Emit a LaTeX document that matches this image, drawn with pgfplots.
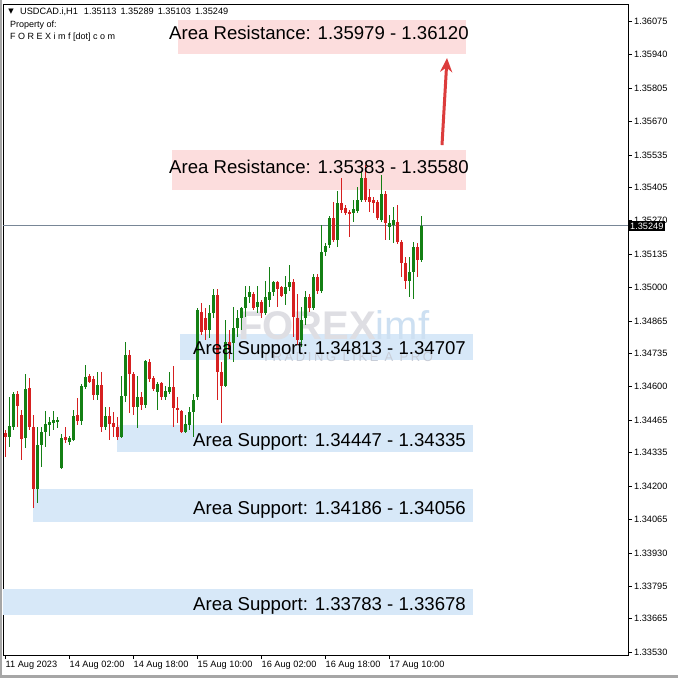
\documentclass[border=0pt]{standalone}
\usepackage{pgfplots}
\pgfplotsset{compat=1.18}
\usepackage{pgfplotstable}
\usetikzlibrary{arrows.meta}
\usepackage{fontspec}
\setmainfont{Liberation Sans}
\newfontfamily\dejavu{DejaVu Sans}
\definecolor{cgreen}{RGB}{20,128,20}
\definecolor{cred}{RGB}{214,32,32}
\definecolor{respink}{RGB}{252,221,221}
\definecolor{supblue}{RGB}{215,232,248}
\definecolor{arrowred}{RGB}{220,60,60}
\definecolor{pline}{RGB}{120,134,150}
\definecolor{wmgray}{RGB}{222,222,227}
\definecolor{wmblue}{RGB}{205,224,242}
\definecolor{wmtext}{RGB}{200,205,215}

\pgfplotstableread{
x O H L C
0 1.34414 1.34426 1.34318 1.34398
1 1.34398 1.34558 1.34358 1.34442
2 1.34438 1.34578 1.34426 1.34570
3 1.34570 1.34582 1.34438 1.34522
4 1.34486 1.34506 1.34306 1.34390
5 1.34394 1.34650 1.34354 1.34590
6 1.34594 1.34634 1.34426 1.34438
7 1.34438 1.34486 1.34111 1.34186
8 1.34186 1.34438 1.34131 1.34366
9 1.34366 1.34438 1.34278 1.34418
10 1.34418 1.34502 1.34358 1.34450
11 1.34446 1.34478 1.34402 1.34458
12 1.34454 1.34502 1.34426 1.34466
13 1.34458 1.34478 1.34434 1.34466
14 1.34274 1.34410 1.34270 1.34394
15 1.34398 1.34438 1.34374 1.34386
16 1.34378 1.34402 1.34366 1.34394
17 1.34386 1.34506 1.34382 1.34482
18 1.34486 1.34554 1.34446 1.34462
19 1.34462 1.34610 1.34446 1.34602
20 1.34598 1.34686 1.34590 1.34638
21 1.34642 1.34650 1.34614 1.34618
22 1.34630 1.34642 1.34546 1.34566
23 1.34566 1.34658 1.34546 1.34606
24 1.34606 1.34658 1.34418 1.34438
25 1.34438 1.34518 1.34426 1.34482
26 1.34482 1.34518 1.34386 1.34450
27 1.34454 1.34498 1.34398 1.34438
28 1.34438 1.34478 1.34386 1.34398
29 1.34398 1.34642 1.34394 1.34562
30 1.34562 1.34782 1.34538 1.34730
31 1.34730 1.34750 1.34494 1.34650
32 1.34650 1.34658 1.34486 1.34518
33 1.34518 1.34642 1.34434 1.34558
34 1.34558 1.34578 1.34506 1.34526
35 1.34526 1.34710 1.34514 1.34702
36 1.34698 1.34714 1.34618 1.34630
37 1.34634 1.34642 1.34582 1.34590
38 1.34578 1.34618 1.34506 1.34610
39 1.34614 1.34618 1.34546 1.34558
40 1.34558 1.34602 1.34546 1.34582
41 1.34578 1.34658 1.34570 1.34598
42 1.34598 1.34682 1.34438 1.34514
43 1.34514 1.34558 1.34454 1.34506
44 1.34502 1.34506 1.34414 1.34418
45 1.34418 1.34486 1.34414 1.34450
46 1.34446 1.34518 1.34426 1.34498
47 1.34498 1.34570 1.34398 1.34546
48 1.34558 1.34918 1.34546 1.34910
49 1.34902 1.34938 1.34810 1.34822
50 1.34878 1.34918 1.34790 1.34830
51 1.34830 1.34930 1.34798 1.34898
52 1.34898 1.34993 1.34878 1.34969
53 1.34969 1.34993 1.34546 1.34658
54 1.34658 1.34698 1.34454 1.34602
55 1.34602 1.34870 1.34598 1.34782
56 1.34782 1.34830 1.34710 1.34750
57 1.34778 1.34922 1.34698 1.34838
58 1.34838 1.34910 1.34802 1.34878
59 1.34878 1.34922 1.34830 1.34918
60 1.34918 1.35005 1.34882 1.34961
61 1.34961 1.35005 1.34938 1.34981
62 1.34973 1.34981 1.34910 1.34918
63 1.34922 1.35005 1.34898 1.34942
64 1.34942 1.34950 1.34878 1.34898
65 1.34898 1.35025 1.34890 1.34961
66 1.34950 1.35085 1.34922 1.34981
67 1.34981 1.35025 1.34965 1.35021
68 1.35021 1.35025 1.34922 1.34993
69 1.35001 1.35005 1.34961 1.34965
70 1.34973 1.35045 1.34930 1.35001
71 1.35001 1.35093 1.34985 1.35021
72 1.35021 1.35033 1.34802 1.34882
73 1.34878 1.34973 1.34770 1.34790
74 1.34790 1.34922 1.34762 1.34870
75 1.34878 1.34985 1.34850 1.34961
76 1.34961 1.34973 1.34902 1.34918
77 1.34918 1.35053 1.34910 1.35041
78 1.35041 1.35053 1.34973 1.34985
79 1.34985 1.35253 1.34977 1.35145
80 1.35145 1.35181 1.35129 1.35169
81 1.35173 1.35289 1.35161 1.35281
82 1.35281 1.35345 1.35185 1.35193
83 1.35193 1.35388 1.35165 1.35341
84 1.35341 1.35444 1.35301 1.35313
85 1.35321 1.35333 1.35293 1.35301
86 1.35305 1.35313 1.35205 1.35297
87 1.35301 1.35353 1.35265 1.35317
88 1.35309 1.35404 1.35301 1.35353
89 1.35353 1.35468 1.35345 1.35444
90 1.35444 1.35496 1.35345 1.35353
91 1.35364 1.35396 1.35305 1.35345
92 1.35353 1.35364 1.35301 1.35341
93 1.35345 1.35353 1.35273 1.35281
94 1.35273 1.35456 1.35265 1.35376
95 1.35376 1.35388 1.35193 1.35261
96 1.35245 1.35293 1.35193 1.35261
97 1.35253 1.35325 1.35181 1.35273
98 1.35265 1.35333 1.35177 1.35185
99 1.35185 1.35193 1.35041 1.35101
100 1.35101 1.35125 1.34993 1.35025
101 1.35025 1.35125 1.34961 1.35061
102 1.35061 1.35185 1.34953 1.35165
103 1.35165 1.35181 1.35041 1.35113
104 1.35113 1.35289 1.35103 1.35249
}\candles

\begin{document}
\begin{tikzpicture}
\path[use as bounding box] (-3bp,-23bp) rectangle (675bp,655bp);
\fill[white] (-3bp,-23bp) rectangle (675bp,655bp);
\fill[gray!70] (-3bp,-23bp) rectangle (-1bp,655bp);
\fill[gray!70] (-3bp,-23bp) rectangle (675bp,-20bp);
\begin{axis}[
  at={(0,0)}, anchor=south west,
  scale only axis, width=625bp, height=651bp,
  xmin=-0.5, xmax=155.75, ymin=1.33518, ymax=1.36144,
  axis line style={black, line width=0.8bp},
  tick align=outside, major tick length=4bp,
  xtick pos=left, xticklabel pos=left,
  ytick pos=right, yticklabel pos=right,
  xtick={0,16,32,48,64,80,96},
  xticklabels={11 Aug 2023,14 Aug 02:00,14 Aug 18:00,15 Aug 10:00,16 Aug 02:00,16 Aug 18:00,17 Aug 10:00},
  ytick={1.36075,1.35940,1.35805,1.35670,1.35535,1.35405,1.35270,1.35135,1.35000,1.34865,1.34735,1.34600,1.34465,1.34335,1.34200,1.34065,1.33930,1.33795,1.33665,1.33530},
  yticklabels={1.36075,1.35940,1.35805,1.35670,1.35535,1.35405,1.35270,1.35135,1.35000,1.34865,1.34735,1.34600,1.34465,1.34335,1.34200,1.34065,1.33930,1.33795,1.33665,1.33530},
  tick style={black, line width=0.6bp},
  tick label style={font=\fontsize{9.2bp}{11bp}\selectfont},
  xticklabel style={anchor=north west, inner xsep=0.5bp, inner ysep=1.5bp},
  yticklabel style={anchor=west, inner xsep=2bp},
  /pgf/number format/assume math mode=true,
]
% zones
\addplot[fill=respink, draw=none, forget plot] coordinates {(43.25,1.36079) (115.25,1.36079) (115.25,1.35942) (43.25,1.35942)};
\addplot[fill=respink, draw=none, forget plot] coordinates {(41.75,1.35555) (115.25,1.35555) (115.25,1.35393) (41.75,1.35393)};
\addplot[fill=supblue, draw=none, forget plot] coordinates {(43.75,1.34813) (117,1.34813) (117,1.34707) (43.75,1.34707)};
\addplot[fill=supblue, draw=none, forget plot] coordinates {(28,1.34447) (117,1.34447) (117,1.34335) (28,1.34335)};
\addplot[fill=supblue, draw=none, forget plot] coordinates {(7,1.34186) (117,1.34186) (117,1.34056) (7,1.34056)};
\addplot[fill=supblue, draw=none, forget plot] coordinates {(-0.5,1.33783) (117,1.33783) (117,1.33678) (-0.5,1.33678)};
% watermark
\node[anchor=base west, inner sep=0, text=wmgray, font=\fontsize{40bp}{44bp}\selectfont\bfseries] at (axis cs:58.25,1.34790) {FOREX\textcolor{wmblue}{\mdseries imf}};
\node[anchor=base west, inner sep=0, text=wmtext, font=\fontsize{13bp}{15bp}\selectfont\addfontfeature{LetterSpace=20}] at (axis cs:64.25,1.34702) {TRADING LIKE A PRO};
% current price line
\addplot[pline, line width=0.8bp, forget plot] coordinates {(-0.5,1.35249) (155.75,1.35249)};
% wicks
\addplot[draw=none, mark=none, forget plot, error bars/.cd, y dir=both, y explicit, error mark=none, error bar style={draw=cgreen, line width=1bp}]
  table[x=x, y expr={\thisrow{C}>=\thisrow{O} ? 0.5*(\thisrow{H}+\thisrow{L}) : nan}, y error expr={0.5*(\thisrow{H}-\thisrow{L})}] {\candles};
\addplot[draw=none, mark=none, forget plot, error bars/.cd, y dir=both, y explicit, error mark=none, error bar style={draw=cred, line width=1bp}]
  table[x=x, y expr={\thisrow{C}<\thisrow{O} ? 0.5*(\thisrow{H}+\thisrow{L}) : nan}, y error expr={0.5*(\thisrow{H}-\thisrow{L})}] {\candles};
% bodies
\addplot[draw=none, mark=none, forget plot, error bars/.cd, y dir=both, y explicit, error mark=none, error bar style={draw=cgreen, line width=3bp}]
  table[x=x, y expr={\thisrow{C}>=\thisrow{O} ? 0.5*(\thisrow{O}+\thisrow{C}) : nan}, y error expr={max(0.5*abs(\thisrow{C}-\thisrow{O}),0.000022)}] {\candles};
\addplot[draw=none, mark=none, forget plot, error bars/.cd, y dir=both, y explicit, error mark=none, error bar style={draw=cred, line width=3bp}]
  table[x=x, y expr={\thisrow{C}<\thisrow{O} ? 0.5*(\thisrow{O}+\thisrow{C}) : nan}, y error expr={max(0.5*abs(\thisrow{C}-\thisrow{O}),0.000022)}] {\candles};
% zone labels
\begin{scope}[every node/.style={anchor=base west, inner sep=0, font=\fontsize{18.6bp}{22bp}\selectfont}]
\node at (axis cs:41,1.36002) {Area Resistance: 1.35979 - 1.36120};
\node at (axis cs:41,1.35462) {Area Resistance: 1.35383 - 1.35580};
\node at (axis cs:47,1.34730) {Area Support: 1.34813 - 1.34707};
\node at (axis cs:47,1.34358) {Area Support: 1.34447 - 1.34335};
\node at (axis cs:47,1.34083) {Area Support: 1.34186 - 1.34056};
\node at (axis cs:47,1.33699) {Area Support: 1.33783 - 1.33678};
\end{scope}
% arrow
\draw[arrowred, line width=3bp, -{Stealth[length=14bp,width=12bp]}] (axis cs:109.25,1.35575) -- (axis cs:110.5,1.35926);
\coordinate (cp) at (axis cs:155.75,1.35249);
\end{axis}
\node[anchor=west, fill=black, text=white, inner xsep=2bp, inner ysep=1.5bp, font=\fontsize{9.2bp}{11bp}\selectfont] at (cp) {1.35249};
% header
\node[anchor=center, inner sep=0, font=\dejavu\fontsize{7bp}{8bp}\selectfont] at (8bp,643.5bp) {▼};
\node[anchor=base west, inner sep=0, font=\fontsize{9.2bp}{11bp}\selectfont] at (17bp,640.5bp) {USDCAD.i,H1\hspace{6bp}1.35113\hspace{4bp}1.35289\hspace{4bp}1.35103\hspace{4bp}1.35249};
\node[anchor=base west, inner sep=0, font=\fontsize{9bp}{11bp}\selectfont] at (7bp,627bp) {Property of:};
\node[anchor=base west, inner sep=0, font=\fontsize{9bp}{11bp}\selectfont] at (7bp,615bp) {F O R E X i m f [dot] c o m};
\end{tikzpicture}
\end{document}
